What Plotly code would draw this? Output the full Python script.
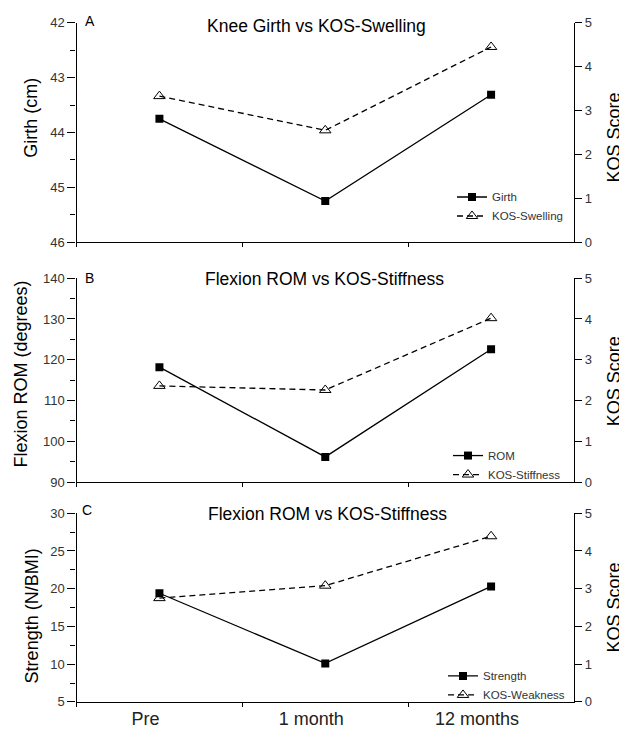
import plotly.graph_objects as go

# time points
categories = ["Pre", "1 month", "12 months"]

# panel A
girth = [43.75, 45.25, 43.31]
kos_swelling = [3.33, 2.55, 4.45]

# panel B
rom = [118.2, 96.2, 122.6]
kos_stiffness = [2.36, 2.26, 4.02]

# panel C
strength = [19.4, 10.1, 20.3]
kos_weakness = [2.75, 3.08, 4.39]

# the page body has an 8px margin, so the figure is a bit smaller than the window
OFF = 8
W, H = 627 - OFF, 738 - OFF
FONT = "Arial, Liberation Sans, sans-serif"


def px(x):
    return (x - OFF) / W


def py(y):
    return 1 - (y - OFF) / H


x_dom = [px(76.5), px(574)]
dom_a = [py(240), py(16)]
dom_b = [py(485), py(276.7)]
dom_c = [py(709.3), py(516.7)]

solid = dict(color="black", width=1.3)
dashed = dict(color="black", width=1.3, dash="6px,4px")
square = dict(symbol="square", size=8, color="black")
triangle = dict(symbol="triangle-up-open", size=10, color="black", line=dict(width=1, color="black"))

fig = go.Figure()

fig.add_trace(go.Scatter(x=categories, y=girth, name="Girth", mode="lines+markers",
                         line=solid, marker=square, xaxis="x", yaxis="y", legend="legend"))
fig.add_trace(go.Scatter(x=categories, y=kos_swelling, name="KOS-Swelling", mode="lines+markers",
                         line=dashed, marker=triangle, xaxis="x", yaxis="y2", legend="legend"))

fig.add_trace(go.Scatter(x=categories, y=rom, name="ROM", mode="lines+markers",
                         line=solid, marker=square, xaxis="x2", yaxis="y3", legend="legend2"))
fig.add_trace(go.Scatter(x=categories, y=kos_stiffness, name="KOS-Stiffness", mode="lines+markers",
                         line=dashed, marker=triangle, xaxis="x2", yaxis="y4", legend="legend2"))

fig.add_trace(go.Scatter(x=categories, y=strength, name="Strength", mode="lines+markers",
                         line=solid, marker=square, xaxis="x3", yaxis="y5", legend="legend3"))
fig.add_trace(go.Scatter(x=categories, y=kos_weakness, name="KOS-Weakness", mode="lines+markers",
                         line=dashed, marker=triangle, xaxis="x3", yaxis="y6", legend="legend3"))


def x_axis(anchor, labels):
    return dict(domain=x_dom, anchor=anchor, type="category",
                categoryorder="array", categoryarray=categories,
                range=[-0.5, 2.5], showline=True, linecolor="black", linewidth=1.2,
                ticks="outside", tickson="boundaries", ticklen=4, tickcolor="black",
                showticklabels=labels, tickfont=dict(size=18, color="#222"),
                ticklabelshift=-14, showgrid=False, zeroline=False)


def left_axis(dom, anchor, rng, dtick, minor):
    return dict(domain=dom, anchor=anchor, range=rng, dtick=dtick, tick0=rng[0],
                showline=True, linecolor="black", linewidth=1.2,
                ticks="outside", ticklen=8, tickcolor="black",
                minor=dict(ticks="outside", ticklen=5, dtick=minor, tick0=rng[0], tickcolor="black"),
                tickfont=dict(size=13, color="#333"), showgrid=False, zeroline=False)


def right_axis(overlay, anchor):
    return dict(overlaying=overlay, anchor=anchor, side="right", range=[0, 5], dtick=1,
                showline=True, linecolor="black", linewidth=1.2,
                ticks="outside", ticklen=7, tickcolor="black",
                tickfont=dict(size=13, color="#333"), showgrid=False, zeroline=False)


def legend_box(left, top):
    return dict(x=px(left), y=py(top), xanchor="left", yanchor="top",
                font=dict(size=11.5, color="#333", family=FONT), bgcolor="rgba(0,0,0,0)",
                borderwidth=0, tracegroupgap=0, itemwidth=30)


annotations = []


def text(s, x, y, size, angle=0, color="black"):
    annotations.append(dict(text=s, x=px(x), y=py(y), xref="paper", yref="paper",
                            xanchor="center", yanchor="middle",
                            showarrow=False, textangle=angle,
                            font=dict(size=size, color=color, family=FONT)))


text("Knee Girth vs KOS-Swelling", 316, 19, 17.5)
text("Flexion ROM vs KOS-Stiffness", 324, 278, 17.5)
text("Flexion ROM vs KOS-Stiffness", 327, 517, 17.5)
text("A", 90, 14, 14)
text("B", 89, 277, 14)
text("C", 87, 513, 14)
text("Girth (cm)", 31, 113, 18, -90)
text("Flexion ROM (degrees)", 21, 375, 18, -90)
text("Strength (N/BMI)", 32, 622, 18, -90)
text("KOS Score", 614, 133, 18, -90)
text("KOS Score", 614, 382, 18, -90)
text("KOS Score", 614, 613, 18, -90)

fig.update_layout(
    width=W, height=H,
    margin=dict(l=0, r=0, t=0, b=0),
    paper_bgcolor="white", plot_bgcolor="white",
    font=dict(family=FONT, color="black"),
    xaxis=x_axis("y", False),
    xaxis2=x_axis("y3", False),
    xaxis3=x_axis("y5", True),
    yaxis=left_axis(dom_a, "x", [46, 42], 1, 0.5),
    yaxis2=right_axis("y", "x"),
    yaxis3=left_axis(dom_b, "x2", [90, 140], 10, 5),
    yaxis4=right_axis("y3", "x2"),
    yaxis5=left_axis(dom_c, "x3", [5, 30], 5, 2.5),
    yaxis6=right_axis("y5", "x3"),
    legend=legend_box(452, 179),
    legend2=legend_box(448, 443),
    legend3=legend_box(443, 668),
    annotations=annotations,
    showlegend=True,
)

fig.write_html("out.html")
